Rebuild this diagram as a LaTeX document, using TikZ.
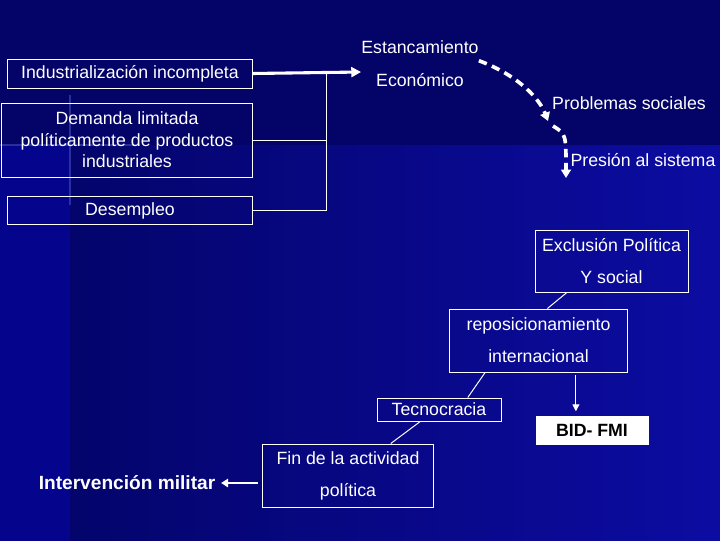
\documentclass[tikz,border=0pt]{standalone}
\usepackage{fontspec}
\setmainfont{Liberation Sans}
\usetikzlibrary{arrows.meta,calc}
\definecolor{bgtop}{RGB}{3,3,104}
\definecolor{bgdark}{RGB}{4,4,108}
\definecolor{bgbright}{RGB}{12,12,162}
\definecolor{bgleft}{RGB}{4,4,140}
\definecolor{glow}{RGB}{110,130,240}
\tikzset{
  txt/.style={text=white, font=\fontsize{12.6}{15.3}\selectfont, align=center, inner sep=0pt},
  box/.style={txt, draw=white, line width=0.7pt},
  wide/.style={font=\fontsize{12.6}{22.8}\selectfont},
  boldtxt/.style={font=\fontsize{12.6}{15.3}\selectfont\bfseries},
  link/.style={white, line width=0.7pt},
  flow/.style={white, line width=2.6pt, dash pattern=on 6pt off 4pt, -{Triangle[length=6pt,width=7pt]}},
}

\begin{document}
\begin{tikzpicture}[x=0.025cm, y=-0.025cm]
\useasboundingbox (0,0) rectangle (720,540);

\fill[bgtop] (-5,-5) rectangle (725,145);
\shade[left color=bgdark, right color=bgbright] (70,145) rectangle (725,545);
\fill[bgleft] (-5,145) rectangle (70,545);
\draw[glow, line width=1pt, opacity=0.35] (70,95) -- (70,205) (0,145) -- (140,145);

\node[box, minimum width=6.1cm, minimum height=0.725cm] (ind) at (130,73.5) {Industrialización incompleta};
\node[box, minimum width=6.25cm, minimum height=1.85cm] (dem) at (127,140) {Demanda limitada\\políticamente de productos\\industriales};
\node[box, minimum width=6.1cm, minimum height=0.7cm] (des) at (130,210.5) {Desempleo};
\node[txt, font=\fontsize{12.6}{23.5}\selectfont] (est) at (420,63.5) {Estancamiento\\Económico};
\node[txt] (prob) at (629,103) {Problemas sociales};
\node[txt] (pres) at (643,160) {Presión al sistema};
\node[box, wide, minimum width=3.825cm, minimum height=1.55cm] (exc) at (611.5,261) {Exclusión Política\\Y social};
\node[box, wide, minimum width=4.425cm, minimum height=1.575cm] (rep) at (538.5,340.5) {reposicionamiento\\internacional};
\node[box, minimum width=3.1cm, minimum height=0.575cm] (tec) at (439,409.5) {Tecnocracia};
\node[box, boldtxt, fill=white, text=black, minimum width=2.8cm, minimum height=0.7cm] (bid) at (592,430) {BID- FMI};
\node[box, wide, minimum width=4.25cm, minimum height=1.575cm] (fin) at (348,475.5) {Fin de la actividad\\política};
\node[txt, font=\fontsize{13.6}{16}\selectfont\bfseries] (int) at (127,483) {Intervención militar};

\coordinate (jn) at (326,72);
\coordinate (p1) at (548,121);
\coordinate (p2) at (566,178);

\draw[white, line width=2.2pt, -{Triangle[length=7pt,width=7pt]}] (ind.east) -- (est.west |- jn);
\foreach \b in {dem, des}
\draw[link] (\b.east) -- (\b.east -| jn);
\draw[link] (jn) -- (jn |- des.east);

\draw[flow] ([yshift=2pt]est.east) .. controls (520,76) and (540,100) .. (p1);
\draw[flow] ([shift={(5,5)}]p1) .. controls (566,134) .. (p2);

\foreach \a/\p/\b/\q in {exc/0.21/rep/0.55, rep/0.2/tec/0.73, tec/0.35/fin/0.75}
\draw[link] ($(\a.south west)!\p!(\a.south east)$) -- ($(\b.north west)!\q!(\b.north east)$);

\coordinate (r1) at ($(rep.south west)!0.71!(rep.south east)$);
\draw[link, -{Triangle[length=5pt,width=5pt]}, shorten <=2pt, shorten >=3pt] (r1) -- (r1 |- bid.north);
\draw[white, line width=1.4pt, -{Triangle[length=5pt,width=6pt]}, shorten <=3.5pt, shorten >=4pt] (int.east -| fin.west) -- (int.east);

\end{tikzpicture}
\end{document}
